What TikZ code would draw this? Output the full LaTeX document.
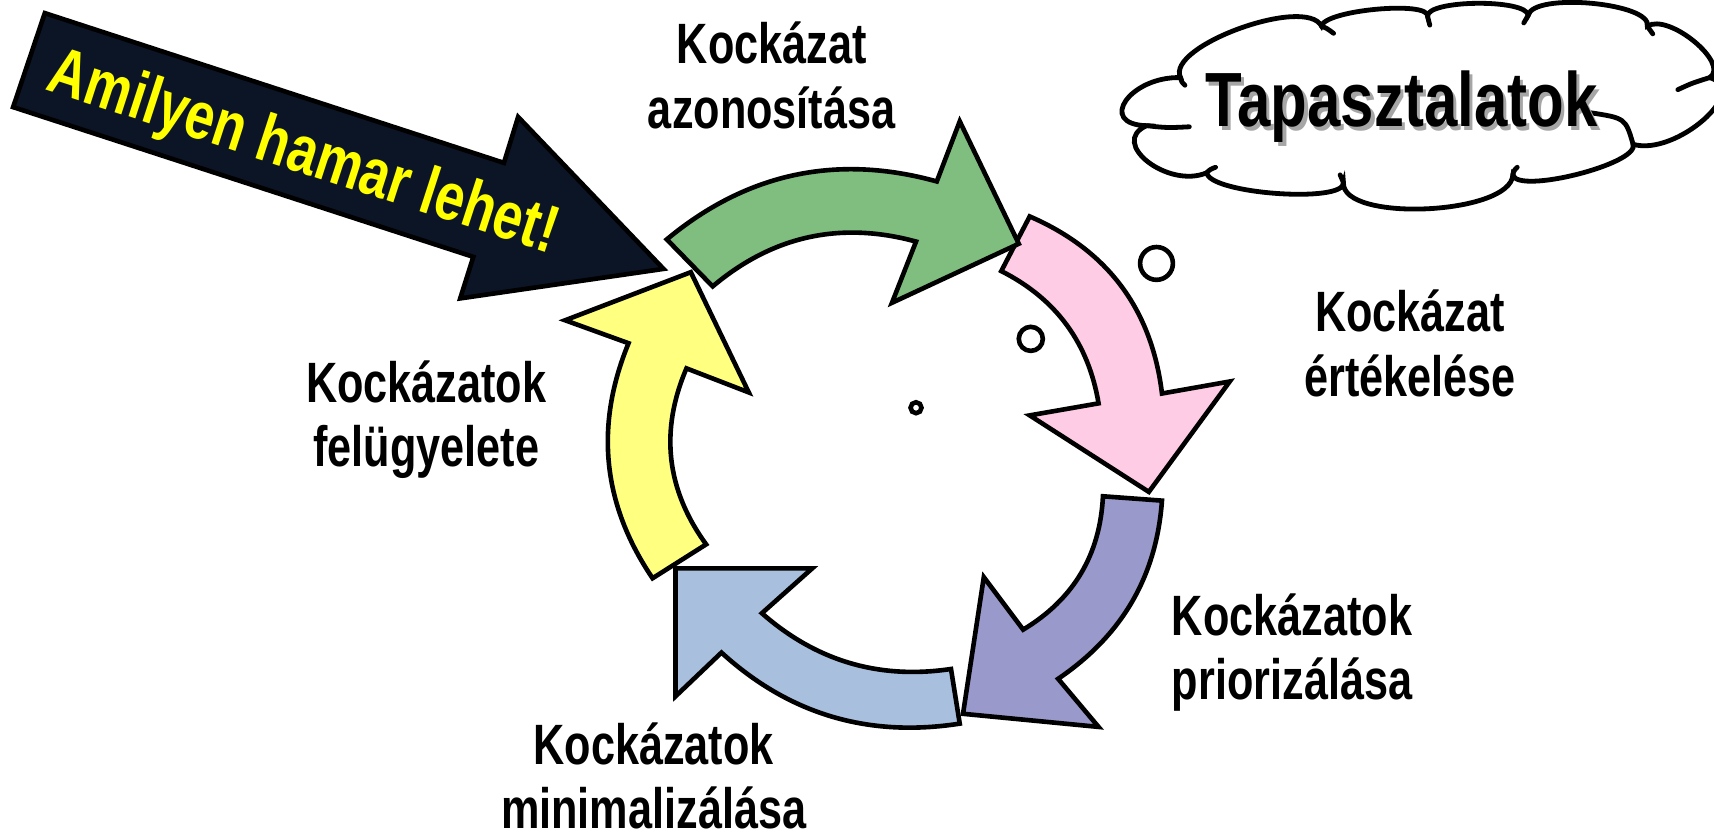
\documentclass[tikz,border=0pt]{standalone}
\usepackage{fontspec}
\setmainfont{Liberation Sans}[FakeStretch=0.76]
\newfontfamily\bigfont{Liberation Sans}[FakeStretch=0.78]
\definecolor{cgreen}{RGB}{128,190,128}
\definecolor{cpink}{RGB}{255,204,230}
\definecolor{cpurple}{RGB}{153,153,204}
\definecolor{cblue}{RGB}{168,192,222}
\definecolor{cyellow}{RGB}{255,255,128}
\definecolor{cdark}{RGB}{11,21,38}
\definecolor{ctext}{RGB}{255,255,0}
\begin{document}
\begin{tikzpicture}[x=0.01cm,y=-0.01cm]
\tikzset{
  shp/.style={draw=black, line width=1.2pt, line join=miter},
  cloudline/.style={draw=black, line width=1.25pt, line join=miter},
  innerarc/.style={draw=black, line width=1.25pt, line cap=round},
  lbl/.style={font=\fontsize{14.8}{16.8}\selectfont\bfseries, align=center, inner sep=0pt},
  bubble/.style={draw=black, line width=1.2pt, fill=white, circle, inner sep=0pt},
}
\useasboundingbox (0,0) rectangle (1568,767);
% blue
\path[shp, fill=cblue] (870,612) -- (878,662) .. controls (795.1,674.9) and (722.4,653.9) .. (660,597) -- (618,637) -- (618,520) -- (743,520) -- (697,561) .. controls (746.8,604.8) and (804.5,621.8) .. (870,612) -- cycle;
% purple
\path[shp, fill=cpurple] (1009,454) -- (1063,458) .. controls (1057.9,527.8) and (1026.2,581.5) .. (968,621) -- (1005,665) -- (881,653) -- (900,528) -- (936,576) .. controls (982.1,548.3) and (1006.4,507.6) .. (1009,454) -- cycle;
% pink
\path[shp, fill=cpink] (916,248) -- (942,198) .. controls (1013.3,228.9) and (1053.6,282.9) .. (1063,360) -- (1125,349) -- (1051,450) -- (942,380) -- (1005,369) .. controls (995.7,313.6) and (966.1,273.3) .. (916,248) -- cycle;
% green
\path[shp, fill=cgreen] (610,219) .. controls (683.1,158.3) and (765.5,140.6) .. (857,166) -- (878,111) -- (932,223) -- (816,277) -- (838,221) .. controls (768.8,202.1) and (706.8,215.8) .. (652,262) -- cycle;
% yellow
\path[shp, fill=cyellow] (597,529) -- (646,498) .. controls (609.5,447.8) and (603.5,394.1) .. (628,337) -- (685,359) -- (632,249) -- (517,293) -- (575,314) .. controls (543.8,389.7) and (551.1,461.3) .. (597,529) -- cycle;
% dark arrow
\path[shp, fill=cdark] (41,12) -- (461,149) -- (474,107) -- (607,246) -- (421,273) -- (433,235) -- (12,98) -- cycle;
\node[rotate=-18, anchor=base, text=ctext, font=\bigfont\fontsize{17.5}{20}\selectfont\bfseries, inner sep=0pt] (amilyen) at (272,157) {Amilyen hamar lehet!};
% cloud
\path[cloudline, fill=white] (1080,71)
 .. controls (1034,69.7) and (1003,113.7) .. (1049,115)
 .. controls (1013.7,130.3) and (1068.7,173.3) .. (1104,158)
 .. controls (1106,177.3) and (1231,186.3) .. (1229,167)
 .. controls (1227,203.7) and (1382,196.7) .. (1384,160)
 .. controls (1388,178) and (1500,150) .. (1494,132)
 .. controls (1532.7,143.3) and (1602.7,82.3) .. (1564,71)
 .. controls (1583.3,58.3) and (1526.3,11.3) .. (1507,24)
 .. controls (1511.7,2.7) and (1402.7,-7.3) .. (1398,14)
 .. controls (1396.7,-1.3) and (1304.7,-0.3) .. (1306,15)
 .. controls (1308,0.3) and (1211,9.3) .. (1209,24)
 .. controls (1194.6,-4.5) and (1065.6,42.5) .. (1080,71) -- cycle;
\draw[innerarc] (1080,71) .. controls (1081,75) .. (1084,78);
\draw[innerarc] (1049,115) .. controls (1068,117) .. (1088,116);
\draw[innerarc] (1104,158) .. controls (1107,155) .. (1112,153);
\draw[innerarc] (1229,167) .. controls (1227,163) .. (1226,160);
\draw[innerarc] (1384,160) .. controls (1385,156) .. (1388,153);
\draw[innerarc] (1494,132) .. controls (1487,108) .. (1454,103);
\draw[innerarc] (1564,71) .. controls (1548,76) .. (1535,82);
\draw[innerarc] (1507,24) .. controls (1509,28) .. (1512,31);
\draw[innerarc] (1398,14) .. controls (1396,18) .. (1394,21);
\draw[innerarc] (1306,15) .. controls (1307,19) .. (1308,23);
\draw[innerarc] (1209,24) .. controls (1214,26) .. (1220,30.5);
\node[anchor=base, text=black!35, font=\bigfont\fontsize{20}{22}\selectfont\bfseries, inner sep=0pt] (tapshadow) at (1285,119) {Tapasztalatok};
\node[anchor=base, font=\bigfont\fontsize{20}{22}\selectfont\bfseries, inner sep=0pt] (tap) at (1282,116) {Tapasztalatok};
% thought bubbles
\node[bubble, minimum size=0.3cm] (b1) at (1058,241) {};
\node[bubble, minimum size=0.22cm] (b2) at (943,310) {};
\node[bubble, minimum size=0.1cm] (b3) at (838,373) {};
% labels
\node[lbl] (l1) at (706,69) {Kockázat\\azonosítása};
\node[lbl] (l2) at (1290,314) {Kockázat\\értékelése};
\node[lbl] (l3) at (1182,597) {Kockázatok\\priorizálása};
\node[lbl] (l4) at (598,710) {Kockázatok\\minimalizálása};
\node[lbl] (l5) at (390,384) {Kockázatok\\felügyelete};
\end{tikzpicture}
\end{document}
